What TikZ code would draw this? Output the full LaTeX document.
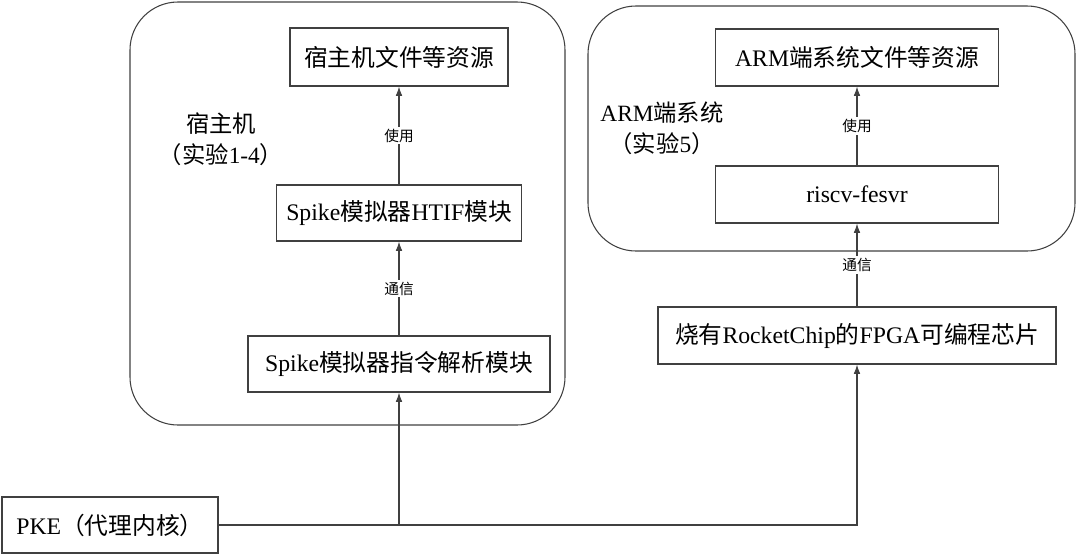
\documentclass[tikz,border=0pt]{standalone}
\usepackage{fontspec}
\setmainfont{Liberation Serif}
\newfontfamily\cjk{Noto Sans CJK SC}
\newcommand\zh[1]{{\cjk #1}}
\usetikzlibrary{positioning,arrows.meta}

\begin{document}
\begin{tikzpicture}[x=0.75pt, y=-0.75pt,
  box/.style={draw=black!75, fill=white, line width=0.8pt, inner sep=0pt, font=\fontsize{17.8}{20}\selectfont},
  group/.style={draw=black!75, line width=0.8pt, rounded corners=36pt, inner sep=0pt},
  tag/.style={fill=white, inner sep=1.5pt, font=\fontsize{11}{12}\selectfont\cjk},
  title/.style={align=center, font=\fontsize{17.5}{23}\selectfont}]
  \useasboundingbox (0,0) rectangle (1076,554);
  % containers
  \node[group, minimum width=435*0.75pt, minimum height=423*0.75pt] (host) at (347.5,213.5) {};
  \node[group, minimum width=487*0.75pt, minimum height=245*0.75pt] (arm) at (831.5,128.5) {};
  \node[title] (hostlbl) at (221,139) {\zh{宿主机}\\\zh{（实验}1-4\zh{）}};
  \node[title] (armlbl) at (662,128) {ARM\zh{端系统}\\\zh{（实验}5\zh{）}};
  % left side
  \node[box, minimum width=218*0.75pt, minimum height=58*0.75pt] (hostres) at (399,57) {\zh{宿主机文件等资源}};
  \node[box, minimum width=245*0.75pt, minimum height=56*0.75pt] (htif) at (399,213) {Spike\zh{模拟器}HTIF\zh{模块}};
  \node[box, minimum width=302*0.75pt, minimum height=56*0.75pt] (parse) at (399,364) {Spike\zh{模拟器指令解析模块}};
  \node[box, minimum width=216*0.75pt, minimum height=56*0.75pt] (pke) at (110,525) {PKE\zh{（代理内核）}};
  % right side
  \node[box, minimum width=283*0.75pt, minimum height=57*0.75pt] (armres) at (857,57.5) {ARM\zh{端系统文件等资源}};
  \node[box, minimum width=283*0.75pt, minimum height=57*0.75pt] (fesvr) at (857,194.5) {riscv-fesvr};
  \node[box, minimum width=398*0.75pt, minimum height=57*0.75pt] (fpga) at (857,335.5) {\zh{烧有}RocketChip\zh{的}FPGA\zh{可编程芯片}};
  % connectors
  \draw[->, >={Latex[length=7pt,width=5pt]}, draw=black!75, line width=0.8pt] (htif) -- node[tag] {使用} (hostres);
  \draw[->, >={Latex[length=7pt,width=5pt]}, draw=black!75, line width=0.8pt] (parse) -- node[tag] {通信} (htif);
  \draw[->, >={Latex[length=7pt,width=5pt]}, draw=black!75, line width=0.8pt] (fesvr) -- node[tag] {使用} (armres);
  \draw[->, >={Latex[length=7pt,width=5pt]}, draw=black!75, line width=0.8pt] (fpga) -- node[tag] {通信} (fesvr);
  \draw[->, >={Latex[length=7pt,width=5pt]}, draw=black!75, line width=0.8pt] (pke.east) -| (parse.south);
  \draw[->, >={Latex[length=7pt,width=5pt]}, draw=black!75, line width=0.8pt] (pke.east) -| (fpga.south);
\end{tikzpicture}
\end{document}
